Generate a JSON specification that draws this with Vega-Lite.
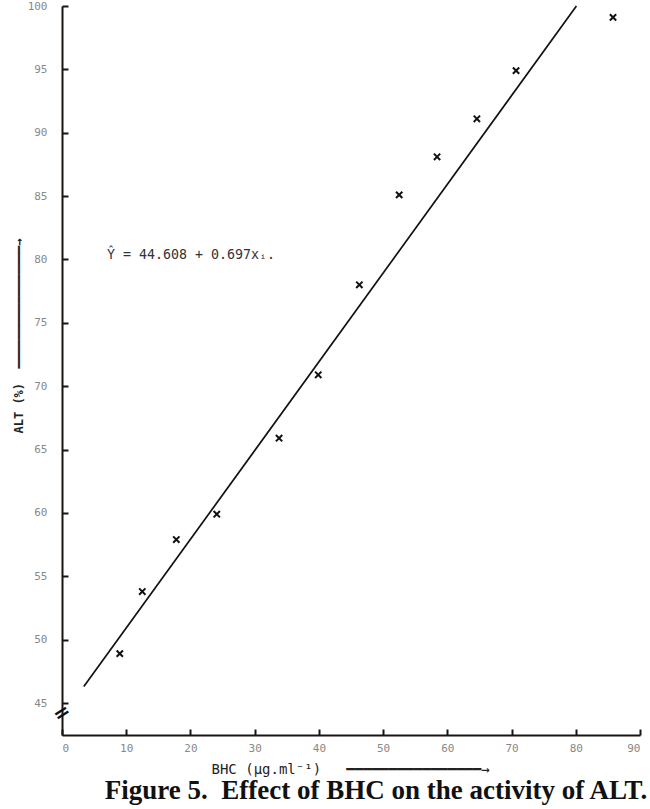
{
  "$schema": "https://vega.github.io/schema/vega-lite/v6.json",
  "width": 578,
  "height": 729,
  "autosize": {"type": "none"},
  "padding": {"left": 62, "top": 6, "right": 10, "bottom": 74},
  "background": "white",
  "config": {"view": {"stroke": null}},
  "title": {
    "text": "Figure 5.\u00a0\u00a0Effect of BHC on the activity of ALT.",
    "orient": "bottom",
    "anchor": "middle",
    "dx": 25,
    "offset": 2,
    "font": "Liberation Serif",
    "fontSize": 27,
    "fontWeight": "bold",
    "color": "#111111"
  },
  "datasets": {
    "points": [
      {"bhc": 9.0, "alt": 48.9},
      {"bhc": 12.5, "alt": 53.8},
      {"bhc": 17.8, "alt": 57.9},
      {"bhc": 24.1, "alt": 59.9},
      {"bhc": 33.8, "alt": 65.9},
      {"bhc": 39.9, "alt": 70.9},
      {"bhc": 46.3, "alt": 78.0},
      {"bhc": 52.5, "alt": 85.1},
      {"bhc": 58.4, "alt": 88.1},
      {"bhc": 64.6, "alt": 91.1},
      {"bhc": 70.7, "alt": 94.9},
      {"bhc": 85.8, "alt": 99.1}
    ],
    "fit": [
      {"bhc": 3.4, "alt": 46.3},
      {"bhc": 80.1, "alt": 100.0}
    ]
  },
  "layer": [
    {
      "data": {"name": "fit"},
      "mark": {"type": "line", "color": "#111111", "strokeWidth": 1.7, "clip": false},
      "encoding": {
        "x": {
          "field": "bhc", "type": "quantitative",
          "scale": {"domain": [0, 90], "nice": false, "zero": false},
          "axis": {
            "values": [0, 10, 20, 30, 40, 50, 60, 70, 80, 90],
            "grid": false,
            "tickSize": -6,
            "tickWidth": 2,
            "tickColor": "#1a1410",
            "domainWidth": 2,
            "domainColor": "#1a1410",
            "labelFont": "DejaVu Sans Mono",
            "labelFontSize": 11,
            "labelColor": "#888888",
            "labelPadding": 13,
            "title": "BHC (µg.ml⁻¹)\u00a0\u00a0\u00a0━━━━━━━━━━━━━━━━→",
            "titleFont": "DejaVu Sans Mono",
            "titleFontSize": 14,
            "titleFontWeight": "normal",
            "titleColor": "#222222",
            "titleAlign": "left",
            "titleAnchor": "start",
            "titleX": 149,
            "titleY": 34,
            "titleBaseline": "middle"
          }
        },
        "y": {
          "field": "alt", "type": "quantitative",
          "scale": {"domain": [42.48, 100], "nice": false, "zero": false},
          "axis": {
            "values": [45, 50, 55, 60, 65, 70, 75, 80, 85, 90, 95, 100],
            "grid": false,
            "tickSize": -6,
            "tickWidth": 2,
            "tickColor": "#1a1410",
            "domainWidth": 2,
            "domainColor": "#1a1410",
            "labelFont": "DejaVu Sans Mono",
            "labelFontSize": 11,
            "labelColor": "#888888",
            "labelPadding": 21,
            "title": "ALT (%)\u00a0\u00a0━━━━━━━━━━━━━━━━━→",
            "titleFont": "DejaVu Sans Mono",
            "titleFontSize": 12,
            "titleFontWeight": "bold",
            "titleColor": "#222222",
            "titleAngle": 270,
            "titleAlign": "left",
            "titleAnchor": "start",
            "titleX": -44,
            "titleY": 427,
            "titleBaseline": "middle"
          }
        }
      }
    },
    {
      "data": {"name": "points"},
      "mark": {
        "type": "point",
        "shape": "M-1,-1L1,1M-1,1L1,-1",
        "filled": false,
        "stroke": "#111111",
        "strokeWidth": 2,
        "size": 40,
        "opacity": 1
      },
      "encoding": {
        "x": {"field": "bhc", "type": "quantitative"},
        "y": {"field": "alt", "type": "quantitative"}
      }
    },
    {
      "data": {"values": [{"label": "Ŷ = 44.608 + 0.697xᵢ."}]},
      "mark": {
        "type": "text",
        "align": "left",
        "baseline": "middle",
        "font": "DejaVu Sans Mono",
        "fontSize": 13.3,
        "color": "#333333"
      },
      "encoding": {
        "x": {"datum": 7.0, "type": "quantitative"},
        "y": {"datum": 80.35, "type": "quantitative"},
        "text": {"field": "label"}
      }
    },
    {
      "data": {"values": [{"label": "="}]},
      "mark": {
        "type": "text",
        "align": "center",
        "baseline": "middle",
        "font": "DejaVu Sans",
        "fontSize": 20,
        "fontWeight": "bold",
        "angle": -32,
        "color": "#111111",
        "clip": false
      },
      "encoding": {
        "x": {"datum": 0, "type": "quantitative"},
        "y": {"datum": 44.2, "type": "quantitative"},
        "text": {"field": "label"}
      }
    }
  ]
}
